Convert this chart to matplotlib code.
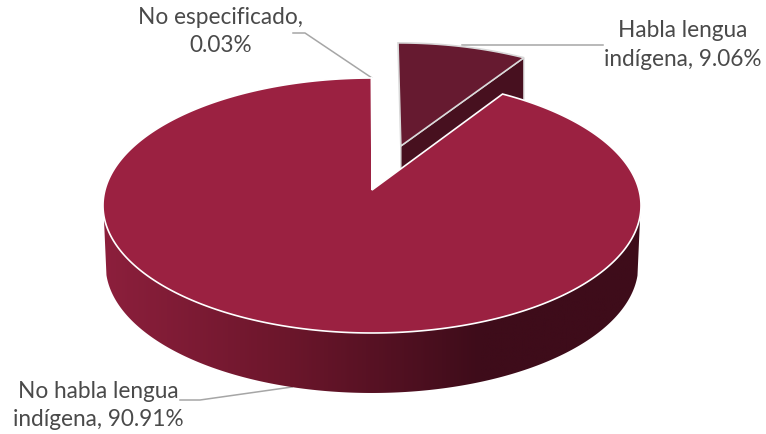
import numpy as np
import matplotlib
matplotlib.use('Agg')
import matplotlib.pyplot as plt
from matplotlib.colors import LinearSegmentedColormap
from matplotlib.patches import Polygon

categories = ['Habla lengua\nindígena', 'No habla lengua\nindígena', 'No especificado']
values = [9.06, 90.91, 0.03]
label_text = ['Habla lengua\nindígena, 9.06%', 'No habla lengua\nindígena, 90.91%', 'No especificado,\n0.03%']
label_pos = [(683, 45), (98, 405.5), (221, 31.5)]
leaders = [[(603, 45), (462, 45)], [(180, 400), (200, 400), (292, 387)], [(293, 33), (305, 33), (372, 78)]]

top_colors = ['#661A30', '#9B2141', '#9B2141']
side_color = '#47101F'
wall_x = [104, 290, 480, 641]
wall_c = ['#8C1F3C', '#6B162B', '#3E0C1A', '#3E0C1A']

# fake 3d camera, numbers worked out from the picture in pixels
cx, cy = 372, 190
a, b, k = 267, 125.6, 0.1216
explode = 0.381
slice_dx = 1.5
main_depth = 60
near_depth = 25
far_depth = 45


def project(u, v, dy=0, narrow=1.0):
    d = 1 + k * v
    return cx + a * narrow * u / d, cy - b * v / d + dy


def arc_uv(t0, t1, n=200):
    t = np.linspace(t0, t1, n)
    return np.sin(t), np.cos(t)


fig = plt.figure(figsize=(7.66, 4.34), dpi=100)
ax = fig.add_axes([0, 0, 1, 1])

edges = np.concatenate([[0], np.cumsum(values)]) / sum(values) * 2 * np.pi

# main slice wall: gradient image clipped to the front of the rim
u, v = arc_uv(edges[1], edges[2], 800)
xt, yt = project(u, v)
front = yt > 215
xb, yb = project(u[front], v[front], main_depth, 0.99)
wall = Polygon(np.c_[np.r_[xt[front], xb[::-1]], np.r_[yt[front], yb[::-1]]], closed=True,
               transform=ax.transData, fc='none', ec='none')
ax.add_patch(wall)
stops = [(x - wall_x[0]) / (wall_x[-1] - wall_x[0]) for x in wall_x]
cmap = LinearSegmentedColormap.from_list('wall', list(zip(stops, wall_c)))
im = ax.imshow(np.linspace(0, 1, 256)[None, :], cmap=cmap, aspect='auto', zorder=2,
               extent=(wall_x[0], wall_x[-1], 400, 200))
im.set_clip_path(wall)

# exploded slice
mid = (edges[0] + edges[1]) / 2
u0, v0 = explode * np.sin(mid), explode * np.cos(mid)
u, v = arc_uv(edges[0], edges[1], 60)
px, py = project(u + u0, v + v0)
px = px + slice_dx
ax0, ay0 = project(u0, v0)
ax0 = ax0 + slice_dx
ax.fill([ax0, px[-1], px[-1], ax0], [ay0, py[-1], py[-1] + far_depth, ay0 + near_depth],
        color=side_color, ec='#D9D9D9', lw=1, zorder=1)
ax.fill(np.r_[ax0, px], np.r_[ay0, py], fc=top_colors[0], ec='#D9D9D9', lw=1.2, zorder=1.5)

# main slice and the tiny one
for i in [1, 2]:
    u, v = arc_uv(edges[i], edges[i + 1], 500 if i == 1 else 5)
    px, py = project(u, v)
    ax.fill(np.r_[cx, px], np.r_[cy, py], fc=top_colors[i], ec='white', lw=1.2, zorder=3)

for pts in leaders:
    ax.plot([p[0] for p in pts], [p[1] for p in pts], color='#A6A6A6', lw=1.1, zorder=0.5)

for s, p in zip(label_text, label_pos):
    ax.text(p[0], p[1], s, ha='center', va='center', fontsize=16.3, family='Lato',
            color='#4A4A4A', linespacing=1.46, zorder=5)

ax.set_xlim(0, 766)
ax.set_ylim(434, 0)
ax.axis('off')

fig.savefig('out.png', dpi=100)
